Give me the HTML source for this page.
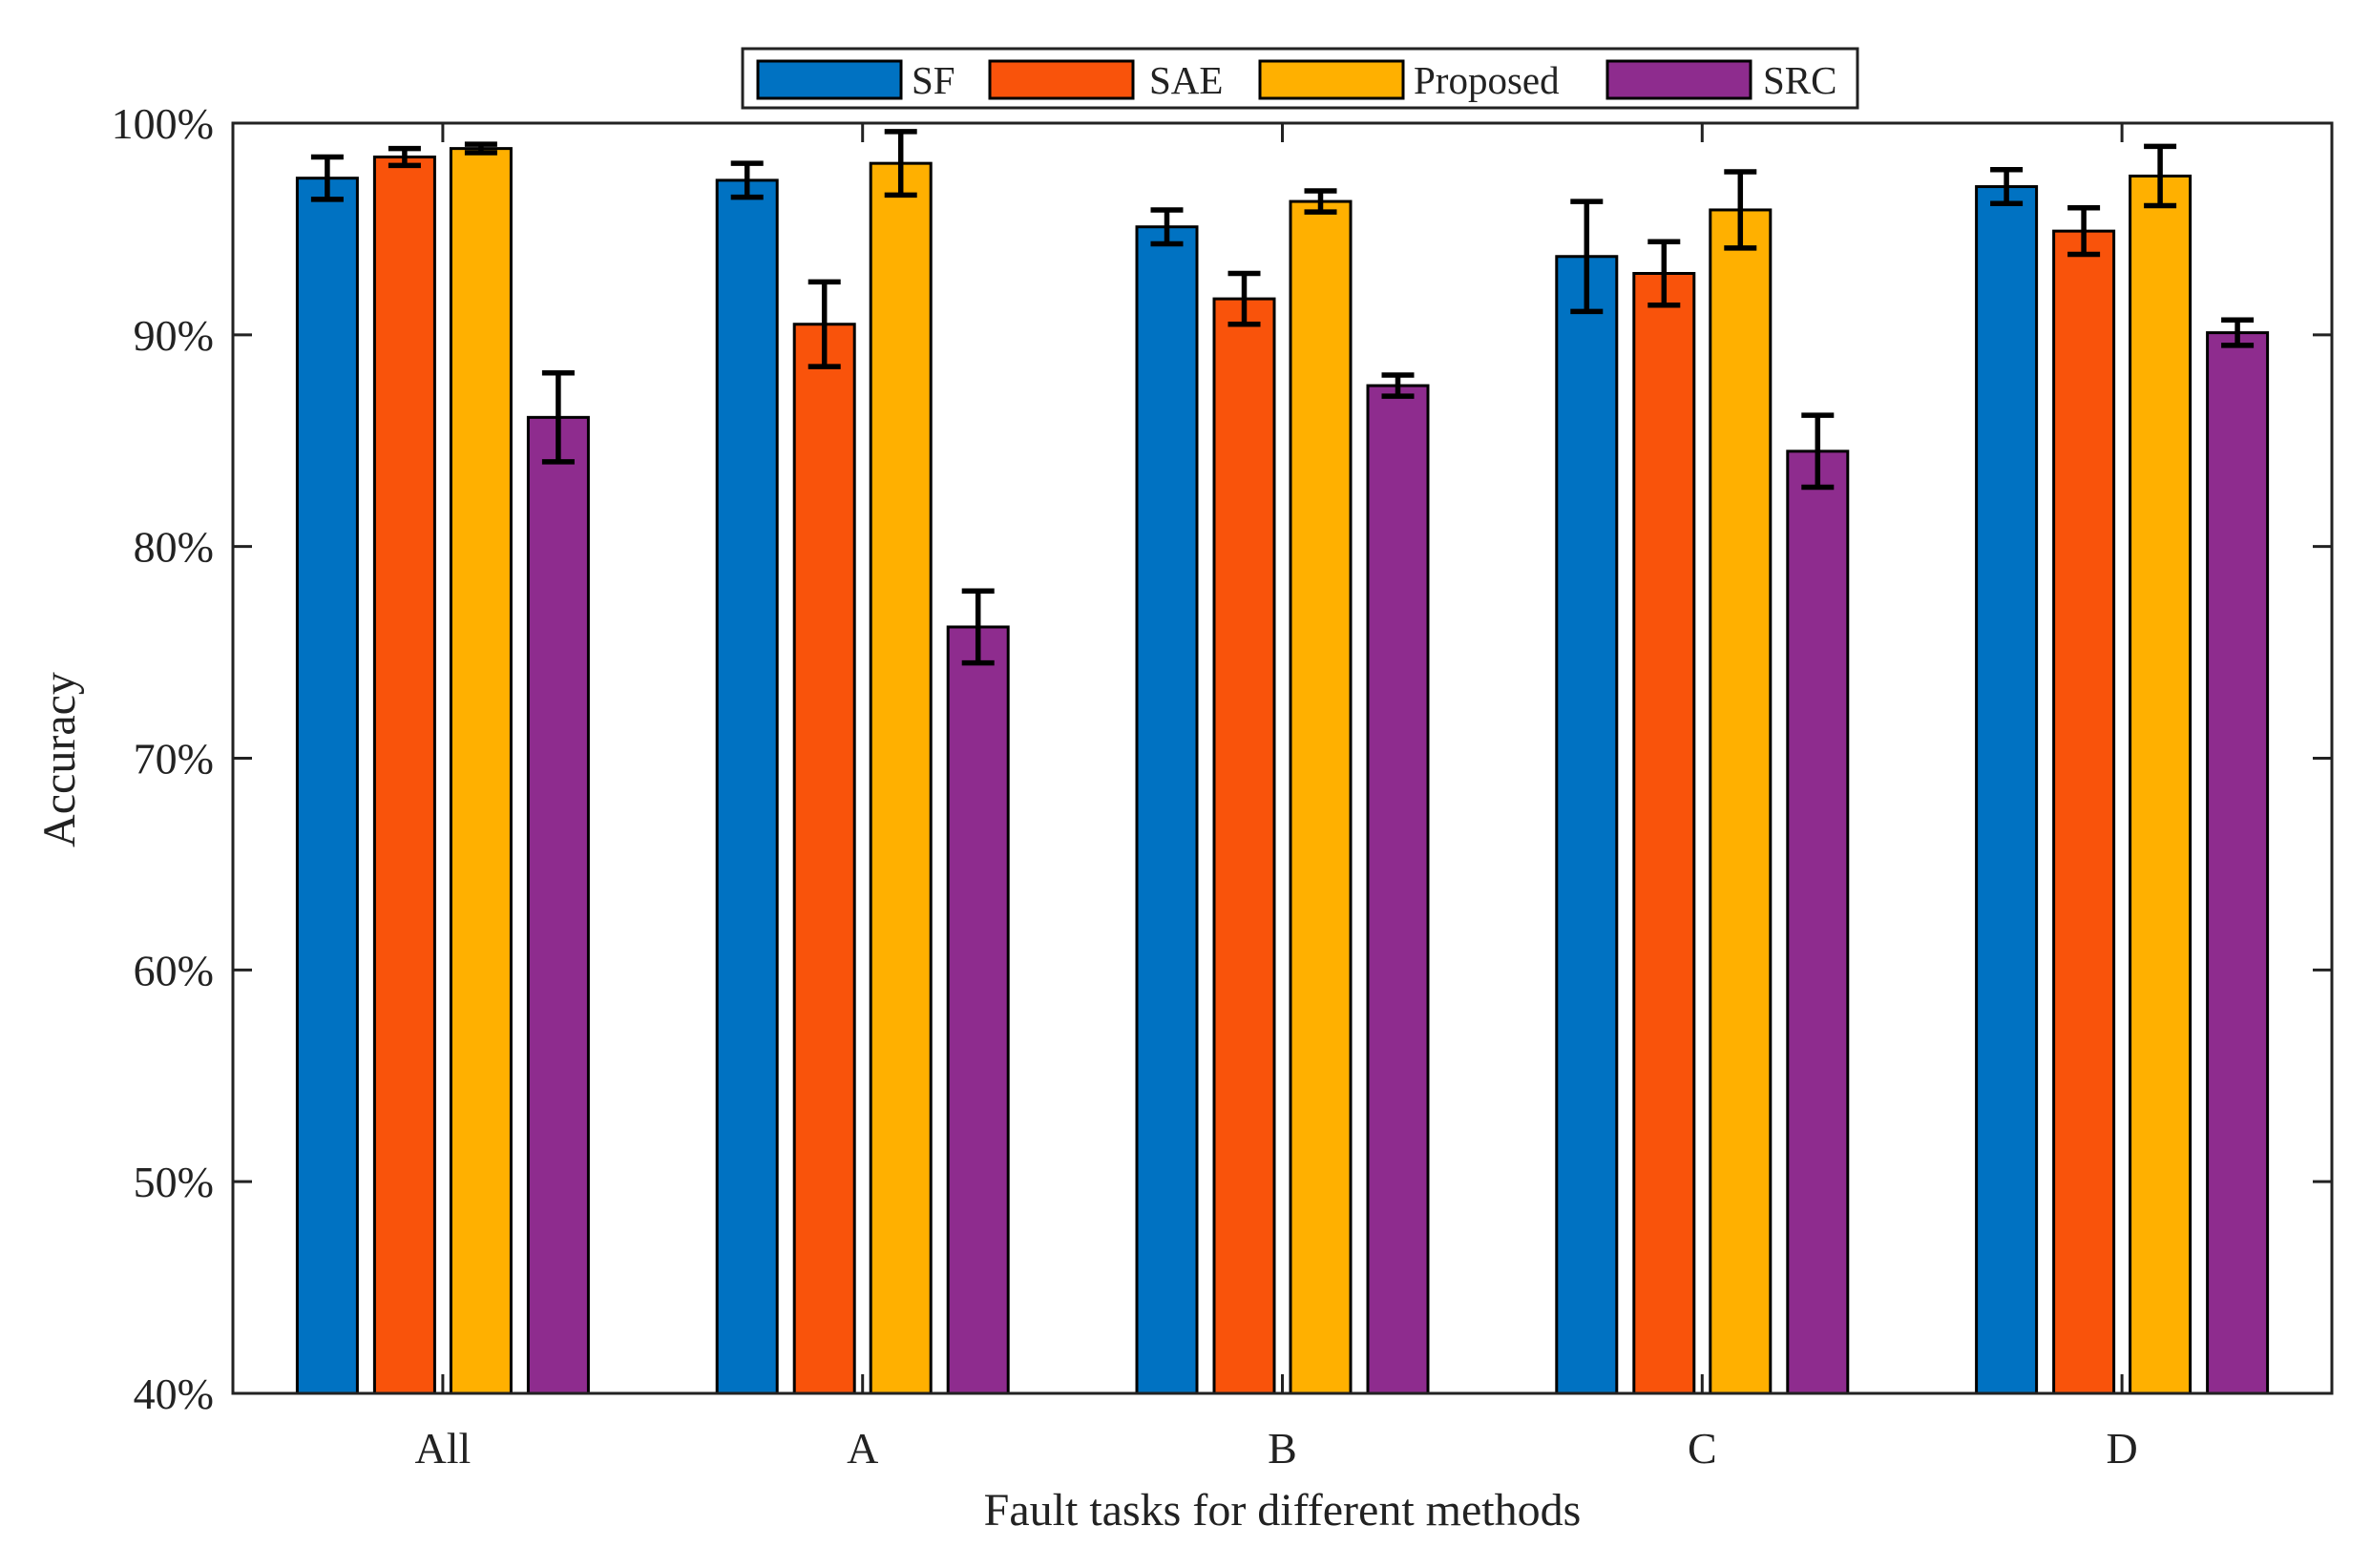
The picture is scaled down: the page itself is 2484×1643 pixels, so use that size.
<!DOCTYPE html>
<html><head><meta charset="utf-8"><style>
html,body{margin:0;padding:0;background:#fff;}
svg{display:block;font-family:"Liberation Serif",serif;}
</style></head><body>
<svg id="chart" width="2484" height="1643" viewBox="0 0 2484 1643" xmlns="http://www.w3.org/2000/svg"></svg>
<script>
const categories = ["All","A","B","C","D"];
const seriesNames = ["SF","SAE","Proposed","SRC"];
const seriesColors = ["#0072C2","#F9530B","#FFB000","#8E2C8E"];
const sfValues = [97.4,97.3,95.1,93.7,97.0];
const saeValues = [98.4,90.5,91.7,92.9,94.9];
const proposedValues = [98.8,98.1,96.3,95.9,97.5];
const srcValues = [86.1,76.2,87.6,84.5,90.1];
const sfErr = [1.0,0.8,0.8,2.6,0.8];
const saeErr = [0.4,2.0,1.2,1.5,1.1];
const proposedErr = [0.2,1.5,0.5,1.8,1.4];
const srcErr = [2.1,1.7,0.5,1.7,0.6];
const yTicks = [40,50,60,70,80,90,100];
const yTickLabels = ["40%","50%","60%","70%","80%","90%","100%"];

const values = [sfValues,saeValues,proposedValues,srcValues];
const errs = [sfErr,saeErr,proposedErr,srcErr];
const L=244,R=2443,T=129,B=1460;
const yMin=40,yMax=100;
const y = v => B - (v-yMin)/(yMax-yMin)*(B-T);
const slot=(R-L)/categories.length;
const x = i => L + slot*(i+0.5);
const offsets=[-121,-40,40,121], bw=63;
const svg=document.getElementById('chart');
const NS='http://www.w3.org/2000/svg';
function mk(tag,attrs,parent){const e=document.createElementNS(NS,tag);for(const k in attrs)e.setAttribute(k,attrs[k]);(parent||svg).appendChild(e);return e;}

for(let s=0;s<values.length;s++){
  for(let i=0;i<categories.length;i++){
    const cx=x(i)+offsets[s];
    const r=mk('rect',{x:cx-bw/2,y:y(values[s][i]),width:bw,height:B-y(values[s][i]),fill:seriesColors[s],stroke:'#000','stroke-width':3});
    
    
  }
}
for(let s=0;s<values.length;s++){
  for(let i=0;i<categories.length;i++){
    const cx=x(i)+offsets[s], v=values[s][i], e=errs[s][i];
    const g=mk('g',{stroke:'#000','stroke-width':5.5});
    
    
    mk('line',{x1:cx,x2:cx,y1:y(v+e),y2:y(v-e)},g);
    mk('line',{x1:cx-17,x2:cx+17,y1:y(v+e),y2:y(v+e)},g);
    mk('line',{x1:cx-17,x2:cx+17,y1:y(v-e),y2:y(v-e)},g);
  }
}
const box=mk('rect',{x:L,y:T,width:R-L,height:B-T,fill:'none',stroke:'#222','stroke-width':3});


for(let k=0;k<yTicks.length;k++){
  const yy=y(yTicks[k]);
  mk('line',{x1:L,x2:L+20,y1:yy,y2:yy,stroke:'#222','stroke-width':3});
  mk('line',{x1:R,x2:R-20,y1:yy,y2:yy,stroke:'#222','stroke-width':3});
  const t=mk('text',{x:224,y:yy+16,'text-anchor':'end','font-size':46,fill:'#222'});
  t.textContent=yTickLabels[k];
  
  
}
for(let i=0;i<categories.length;i++){
  const xx=x(i);
  mk('line',{x1:xx,x2:xx,y1:B,y2:B-20,stroke:'#222','stroke-width':3});
  mk('line',{x1:xx,x2:xx,y1:T,y2:T+20,stroke:'#222','stroke-width':3});
  const t=mk('text',{x:xx,y:1533,'text-anchor':'middle','font-size':46,fill:'#222'});
  t.textContent=categories[i];
  
  
}
const xt=mk('text',{x:(L+R)/2,y:1598,'text-anchor':'middle','font-size':48,fill:'#222'});
xt.textContent='Fault tasks for different methods';


const yt=mk('text',{x:0,y:0,'text-anchor':'middle','font-size':48,fill:'#222',transform:'translate(78,796) rotate(-90)'});
yt.textContent='Accuracy';


const lg=mk('g',{});


mk('rect',{x:778,y:51,width:1168,height:62,fill:'#fff',stroke:'#222','stroke-width':3},lg);
const swX=[794,1037,1320,1684], txX=[955,1204,1481,1847];
for(let s=0;s<seriesNames.length;s++){
  const e=mk('g',{},lg);
  
  
  mk('rect',{x:swX[s],y:64,width:150,height:39,fill:seriesColors[s],stroke:'#000','stroke-width':3},e);
  const t=mk('text',{x:txX[s],y:98,'font-size':41,fill:'#222'},e);
  t.textContent=seriesNames[s];
}
</script>
</body></html>
